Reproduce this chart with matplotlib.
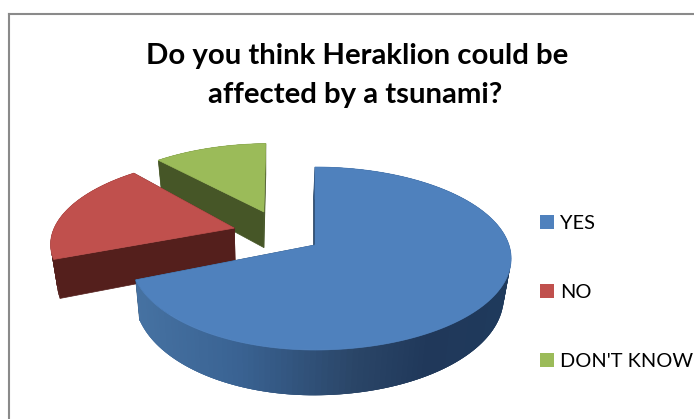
import numpy as np
import matplotlib
matplotlib.use("Agg")
import matplotlib.pyplot as plt
from matplotlib.patches import Polygon, Rectangle

categories = ["YES", "NO", "DON'T KNOW"]
shares = [69.0, 19.5, 11.5]
title_lines = ["Do you think Heraklion could be", "affected by a tsunami?"]

# look of the 3D pie
top_colors = ["#4f81bd", "#c0504d", "#9bbb59"]
wall_colors = ["#24405f", "#541f1c", "#465627"]
explode = [0.0, 0.47, 0.48]
explode_dir = [0.0, 155.6, 125.5]
radius = [1.0, 0.955, 0.97]
twist = [0.0, 0.0, 1.5]
left_squeeze = [0.94, 1.0, 1.0]
start_angle = 90.0

cx, cy = 315.0, 245.0
rx, ry, persp = 194.0, 89.5, 0.1475
vanish_x, shrink = 265.0, 0.97


def project(x, y):
    s = 1.0 / (1.0 + persp * y)
    return cx + rx * x * s, cy - ry * y * s


def lower(px, py):
    # bottom face of the pie, pixel space
    return vanish_x + (px - vanish_x) * shrink, py + 38 + 0.07 * (py - 245)


def wall_color(i, px):
    if i != 0:
        return wall_colors[i]
    stops = [136, 240, 360, 430, 510]
    r = np.interp(px, stops, [0x46, 0x3a, 0x2a, 0x20, 0x1f])
    g = np.interp(px, stops, [0x72, 0x63, 0x45, 0x38, 0x3a])
    b = np.interp(px, stops, [0xa2, 0x93, 0x67, 0x5a, 0x5c])
    return (r / 255, g / 255, b / 255)


fig = plt.figure(figsize=(6.94, 4.19), dpi=100)
ax = fig.add_axes([0, 0, 1, 1])
ax.set_xlim(0, 694)
ax.set_ylim(419, 0)
ax.axis("off")

# only the top and left of the chart border made it into the crop
ax.plot([9, 9], [419, 14], color="#8a8a8a", lw=1.5, solid_capstyle="projecting")
ax.plot([9, 694], [14, 14], color="#8a8a8a", lw=1.5, solid_capstyle="projecting")

# slice angles, clockwise from the top
ends = start_angle - np.cumsum(shares) / sum(shares) * 360
starts = np.r_[start_angle, ends[:-1]]

# back slices first so the big one sits on top
for i in [2, 1, 0]:
    ox = explode[i] * np.cos(np.radians(explode_dir[i]))
    oy = explode[i] * np.sin(np.radians(explode_dir[i]))
    theta = np.radians(np.linspace(starts[i], ends[i], 160) + twist[i])
    unit_x = radius[i] * np.cos(theta)
    unit_x = np.where(unit_x < 0, unit_x * left_squeeze[i], unit_x)
    xs = ox + unit_x
    ys = oy + radius[i] * np.sin(theta)
    ax_, ay_ = project(ox, oy)
    arc_x, arc_y = project(xs, ys)
    low_x, low_y = lower(arc_x, arc_y)
    apex_lx, apex_ly = lower(ax_, ay_)

    # straight walls
    for k in [0, -1]:
        ax.add_patch(Polygon([(ax_, ay_), (arc_x[k], arc_y[k]), (low_x[k], low_y[k]), (apex_lx, apex_ly)],
                             fc=wall_colors[i], ec=wall_colors[i], lw=0.5))
    # curved wall as thin strips, overlapping so no seams show
    for j in range(len(theta) - 1):
        n = min(j + 3, len(theta) - 1)
        c = wall_color(i, arc_x[j])
        ax.add_patch(Polygon([(arc_x[j], arc_y[j]), (arc_x[n], arc_y[n]),
                              (low_x[n], low_y[n]), (low_x[j], low_y[j])],
                             fc=c, ec="none"))
    top = np.r_[[[ax_, ay_]], np.c_[arc_x, arc_y]]
    ax.add_patch(Polygon(top, fc=top_colors[i], ec=top_colors[i], lw=0.5))

ax.text(357, 64, title_lines[0], family="Lato", weight="bold", fontsize=21.2, ha="center", va="baseline")
ax.text(355, 103, title_lines[1], family="Lato", weight="bold", fontsize=21.2, ha="center", va="baseline")

legend_y = [222, 291, 360]
for name, color, y in zip(categories, top_colors, legend_y):
    ax.add_patch(Rectangle((540, y - 7), 14, 14, fc=color, ec="none"))
    ax.text(560, y, name, family="Lato", fontsize=14.4, ha="left", va="center_baseline")

fig.savefig("out.png", dpi=100)
